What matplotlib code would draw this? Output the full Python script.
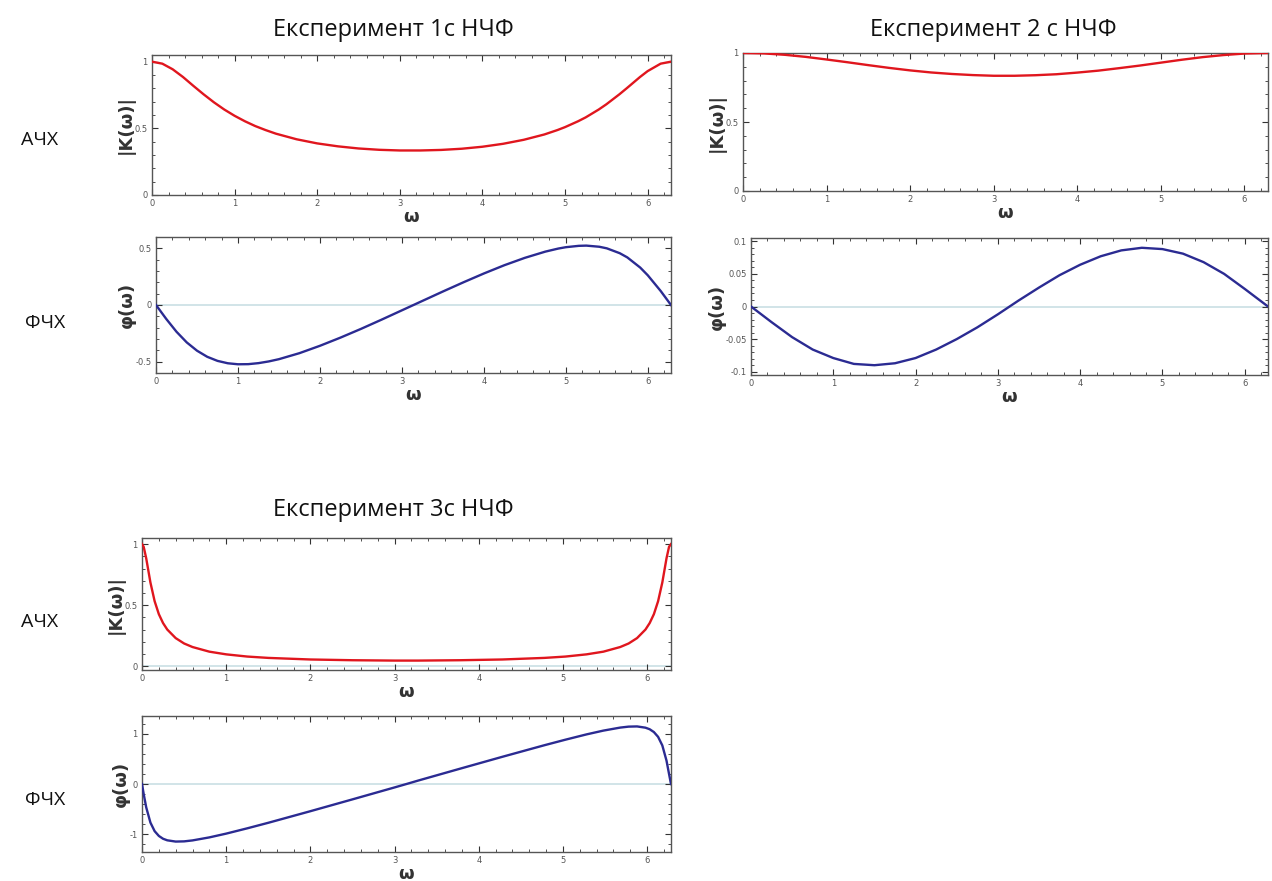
import matplotlib
matplotlib.use("Agg")
import matplotlib.pyplot as plt
from matplotlib.ticker import AutoMinorLocator, FuncFormatter

W, H = 1272, 881
FAM = ["Open Sans", "DejaVu Sans"]

# --- data ---------------------------------------------------------------------
w1 = [0, 0.125, 0.25, 0.375, 0.5, 0.625, 0.75, 0.875, 1.0, 1.125, 1.25, 1.375,
      1.5, 1.75, 2.0, 2.25, 2.5, 2.75, 3.0, 3.25, 3.5, 3.75, 4.0, 4.25, 4.5,
      4.75, 4.908, 5.0, 5.158, 5.25, 5.408, 5.5, 5.658, 5.75, 5.908, 6.0,
      6.158, 6.283]
k1 = [1.0, 0.985, 0.943, 0.885, 0.819, 0.755, 0.695, 0.641, 0.594, 0.553, 0.517,
      0.487, 0.460, 0.418, 0.387, 0.365, 0.349, 0.339, 0.334, 0.334, 0.338,
      0.347, 0.362, 0.384, 0.414, 0.454, 0.487, 0.509, 0.553, 0.582, 0.641,
      0.680, 0.755, 0.802, 0.885, 0.929, 0.985, 1.0]
phi1 = [0, -0.123, -0.236, -0.330, -0.403, -0.457, -0.493, -0.514, -0.523,
        -0.522, -0.513, -0.498, -0.478, -0.425, -0.360, -0.288, -0.211, -0.130,
        -0.047, 0.036, 0.119, 0.200, 0.278, 0.351, 0.416, 0.471, 0.498, 0.510,
        0.522, 0.524, 0.514, 0.500, 0.457, 0.420, 0.330, 0.262, 0.123, 0]

w2 = [0, 0.25, 0.5, 0.75, 1.0, 1.25, 1.5, 1.75, 2.0, 2.25, 2.5, 2.75, 3.0,
      3.25, 3.5, 3.75, 4.0, 4.25, 4.5, 4.75, 5.0, 5.25, 5.5, 5.75, 6.0, 6.283]
k2 = [1.0, 0.997, 0.987, 0.972, 0.953, 0.933, 0.912, 0.892, 0.874, 0.859, 0.848,
      0.840, 0.835, 0.835, 0.839, 0.846, 0.858, 0.872, 0.890, 0.909, 0.930,
      0.951, 0.970, 0.985, 0.996, 1.0]
phi2 = [0, -0.024, -0.047, -0.066, -0.079, -0.088, -0.090, -0.087, -0.079,
        -0.066, -0.050, -0.032, -0.012, 0.009, 0.029, 0.048, 0.064, 0.077,
        0.086, 0.090, 0.088, 0.081, 0.068, 0.050, 0.027, 0]

w3 = [0, 0.02, 0.05, 0.1, 0.15, 0.2, 0.25, 0.3, 0.4, 0.5, 0.6, 0.8, 1.0, 1.25,
      1.5, 2.0, 2.5, 3.0, 3.1416, 3.28, 3.78, 4.28, 4.78, 5.03, 5.28, 5.48,
      5.68, 5.78, 5.88, 5.98, 6.03, 6.08, 6.13, 6.18, 6.23, 6.26, 6.283]
k3 = [1.0, 0.978, 0.884, 0.686, 0.533, 0.427, 0.354, 0.301, 0.231, 0.187, 0.158,
      0.120, 0.098, 0.080, 0.069, 0.056, 0.050, 0.047, 0.047, 0.047, 0.050,
      0.056, 0.069, 0.080, 0.098, 0.120, 0.158, 0.187, 0.231, 0.301, 0.354,
      0.427, 0.533, 0.686, 0.884, 0.978, 1.0]
phi3 = [0, -0.199, -0.463, -0.766, -0.936, -1.031, -1.087, -1.118, -1.143,
        -1.139, -1.120, -1.060, -0.985, -0.880, -0.770, -0.540, -0.305, -0.068,
        0, 0.068, 0.305, 0.540, 0.770, 0.880, 0.985, 1.060, 1.120, 1.139,
        1.143, 1.118, 1.087, 1.031, 0.936, 0.766, 0.463, 0.199, 0]

titles = ["Експеримент 1с НЧФ", "Експеримент 2 с НЧФ", "Експеримент 3с НЧФ"]
row_labels = ["АЧХ", "ФЧХ"]

RED = "#e0161e"
BLUE = "#2b2b92"
ZERO = "#c9dfe4"


def box(l, t, r, b):
    return [l / W, 1 - b / H, (r - l) / W, (b - t) / H]


plain = FuncFormatter(lambda v, _: f"{v:g}")


def style(ax, ylim, yticks, ylabel):
    ax.set_xlim(0, 6.2832)
    ax.set_ylim(*ylim)
    ax.set_xticks(range(7))
    ax.set_yticks(yticks)
    ax.xaxis.set_major_formatter(plain)
    ax.yaxis.set_major_formatter(plain)
    ax.xaxis.set_minor_locator(AutoMinorLocator(5))
    ax.yaxis.set_minor_locator(AutoMinorLocator(5))
    ax.tick_params(which="both", direction="in", top=True, right=True,
                   labelsize=6, labelcolor="#555555", color="#333333", pad=3)
    ax.tick_params(which="major", length=4, width=0.8)
    ax.tick_params(which="minor", length=2, width=0.6)
    for s in ax.spines.values():
        s.set_color("#555555")
        s.set_linewidth(1.0)
    ax.set_ylabel(ylabel, fontsize=13, fontweight="bold", color="#333333", labelpad=0)
    ax.set_xlabel("ω", fontsize=13, fontweight="bold", color="#333333", labelpad=0)


fig = plt.figure(figsize=(W / 100, H / 100), dpi=100)

panels = [
    # (x, amp, phase, amp box, phase box, amp ylim, amp ticks, ph ylim, ph ticks, title pos)
    (w1, k1, phi1, (152, 55, 671, 195), (156, 237, 671, 373),
     (0, 1.05), [0, 0.5, 1], (-0.6, 0.6), [-0.5, 0, 0.5], (393, 30)),
    (w2, k2, phi2, (743, 53, 1268, 191), (751, 238, 1268, 375),
     (0, 1.0), [0, 0.5, 1], (-0.105, 0.105), [-0.1, -0.05, 0, 0.05, 0.1], (993, 30)),
    (w3, k3, phi3, (142, 538, 671, 670), (142, 716, 671, 852),
     (-0.03, 1.05), [0, 0.5, 1], (-1.35, 1.35), [-1, 0, 1], (393, 510)),
]

for i, (x, amp, ph, abox, pbox, aylim, aticks, pylim, pticks, tpos) in enumerate(panels):
    ax = fig.add_axes(box(*abox))
    if i == 2:
        ax.axhline(0, color=ZERO, lw=1.2, zorder=1)
    ax.plot(x, amp, color=RED, lw=1.7, zorder=3)
    style(ax, aylim, aticks, "|K(ω)|")

    bx = fig.add_axes(box(*pbox))
    bx.axhline(0, color=ZERO, lw=1.2, zorder=1)
    bx.plot(x, ph, color=BLUE, lw=1.7, zorder=3)
    style(bx, pylim, pticks, "φ(ω)")

    fig.text(tpos[0] / W, 1 - tpos[1] / H, titles[i], family=FAM, fontsize=17,
             ha="center", va="center", color="#111111")

# row labels on the left
for y in (140, 622):
    fig.text(40 / W, 1 - y / H, row_labels[0], family=FAM, fontsize=14,
             ha="center", va="center", color="#111111")
for y in (323, 800):
    fig.text(45 / W, 1 - y / H, row_labels[1], family=FAM, fontsize=14,
             ha="center", va="center", color="#111111")

fig.savefig("out.png", dpi=100)
